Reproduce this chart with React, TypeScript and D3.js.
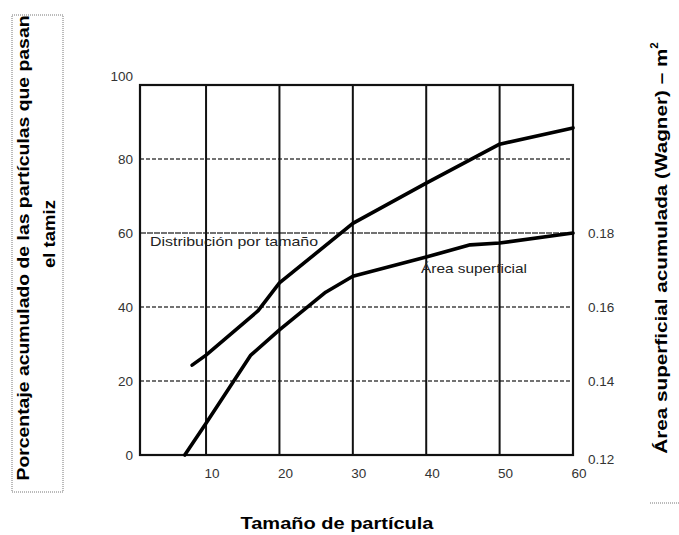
import * as d3 from "d3";

// Distribución por tamaño (% acumulado, eje izquierdo)
const sizeX = [8.1, 10, 17.1, 20, 30, 40, 50, 60];
const sizeY = [24.3, 27, 39, 46.5, 62.6, 73.5, 84, 88.4];

// Área superficial (m², eje derecho)
const areaX = [7.1, 10, 16.1, 20, 26.3, 30, 40, 46, 50, 60];
const areaY = [0.12, 0.1286, 0.147, 0.1538, 0.164, 0.1683, 0.1735, 0.1768, 0.1773, 0.18];

const xTicks = [10, 20, 30, 40, 50, 60];
const yTicks = [0, 20, 40, 60, 80, 100];
const yRightTicks = [0.12, 0.14, 0.16, 0.18];

const font = "'Liberation Sans', Arial, sans-serif";

export default function App() {
  const width = 679;
  const height = 535;
  const plot = { left: 140, right: 573, top: 85, bottom: 455 };

  const x = d3.scaleLinear().domain([1, 60]).range([plot.left, plot.right]);
  const y = d3.scaleLinear().domain([0, 100]).range([plot.bottom, plot.top]);
  const yRight = d3.scaleLinear().domain([0.12, 0.22]).range([plot.bottom, plot.top]);

  const sizeLine = d3
    .line<number>()
    .x((d) => x(d))
    .y((_, i) => y(sizeY[i]));
  const areaLine = d3
    .line<number>()
    .x((d) => x(d))
    .y((_, i) => yRight(areaY[i]));

  return (
    <svg
      width={width}
      height={height}
      style={{ position: "absolute", left: 0, top: 0, background: "#fff" }}
    >
      {/* horizontal grid, dashed */}
      {yTicks
        .filter((t) => t > 0 && t < 100)
        .map((t) => (
          <line
            key={`h${t}`}
            x1={plot.left}
            x2={plot.right}
            y1={y(t)}
            y2={y(t)}
            stroke="#444"
            strokeWidth={1.4}
            strokeDasharray={t === 60 ? "6,1" : "4,2"}
          />
        ))}
      {/* vertical grid */}
      {xTicks
        .filter((t) => t < 60)
        .map((t) => (
          <line
            key={`v${t}`}
            x1={x(t)}
            x2={x(t)}
            y1={plot.top}
            y2={plot.bottom}
            stroke="#111"
            strokeWidth={2}
          />
        ))}
      <rect
        x={plot.left}
        y={plot.top}
        width={plot.right - plot.left}
        height={plot.bottom - plot.top}
        fill="none"
        stroke="#111"
        strokeWidth={2.2}
      />

      {/* curves */}
      <path
        d={sizeLine(sizeX) ?? ""}
        fill="none"
        stroke="#000"
        strokeWidth={3.6}
        strokeLinejoin="round"
        strokeLinecap="round"
      />
      <path
        d={areaLine(areaX) ?? ""}
        fill="none"
        stroke="#000"
        strokeWidth={3.6}
        strokeLinejoin="round"
        strokeLinecap="round"
      />

      <text
        x={150}
        y={246}
        fontFamily={font}
        fontSize={13}
        fill="#222"
        textLength={168}
        lengthAdjust="spacingAndGlyphs"
      >
        Distribución por tamaño
      </text>
      <text
        x={421}
        y={273}
        fontFamily={font}
        fontSize={13}
        fill="#222"
        textLength={106}
        lengthAdjust="spacingAndGlyphs"
      >
        Área superficial
      </text>

      {/* left ticks */}
      {yTicks.map((t) => (
        <text
          key={`yl${t}`}
          x={133}
          y={y(t) - (t === 100 ? 9 : 0)}
          textAnchor="end"
          dominantBaseline="central"
          fontFamily={font}
          fontSize={13.5}
          fill="#333"
        >
          {t}
        </text>
      ))}
      {/* right ticks */}
      {yRightTicks.map((t) => (
        <text
          key={`yr${t}`}
          x={588}
          y={yRight(t) + (t === 0.12 ? 4 : 0)}
          dominantBaseline="central"
          fontFamily={font}
          fontSize={13.5}
          fill="#333"
        >
          {t.toFixed(2)}
        </text>
      ))}
      {/* bottom ticks */}
      {xTicks.map((t) => (
        <text
          key={`x${t}`}
          x={x(t) + 6}
          y={473}
          textAnchor="middle"
          dominantBaseline="central"
          fontFamily={font}
          fontSize={13.5}
          fill="#333"
        >
          {t}
        </text>
      ))}

      {/* left title box */}
      <rect
        x={12}
        y={15}
        width={51}
        height={477}
        fill="none"
        stroke="#777"
        strokeWidth={1}
        strokeDasharray="1,1"
      />
      <g fontFamily={font} fontWeight="bold" fontSize={17} fill="#000">
        <text
          transform="translate(23, 248) rotate(-90)"
          textAnchor="middle"
          dominantBaseline="central"
          textLength={465}
          lengthAdjust="spacingAndGlyphs"
        >
          Porcentaje acumulado de las partículas que pasan
        </text>
        <text
          transform="translate(49, 234) rotate(-90)"
          textAnchor="middle"
          dominantBaseline="central"
          textLength={68}
          lengthAdjust="spacingAndGlyphs"
        >
          el tamiz
        </text>
      </g>

      {/* right title */}
      <line
        x1={650}
        x2={679}
        y1={503}
        y2={503}
        stroke="#777"
        strokeWidth={1}
        strokeDasharray="1,1"
      />
      <text
        transform="translate(661, 248) rotate(-90)"
        textAnchor="middle"
        dominantBaseline="central"
        fontFamily={font}
        fontWeight="bold"
        fontSize={17}
        fill="#000"
      >
        <tspan textLength={405} lengthAdjust="spacingAndGlyphs">
          Área superficial acumulada (Wagner) – m
        </tspan>
        <tspan fontSize={11.5} dy={-7}>
          2
        </tspan>
      </text>

      {/* x title */}
      <text
        x={337}
        y={523}
        textAnchor="middle"
        dominantBaseline="central"
        fontFamily={font}
        fontWeight="bold"
        fontSize={17}
        fill="#000"
        textLength={193}
        lengthAdjust="spacingAndGlyphs"
      >
        Tamaño de partícula
      </text>
    </svg>
  );
}
